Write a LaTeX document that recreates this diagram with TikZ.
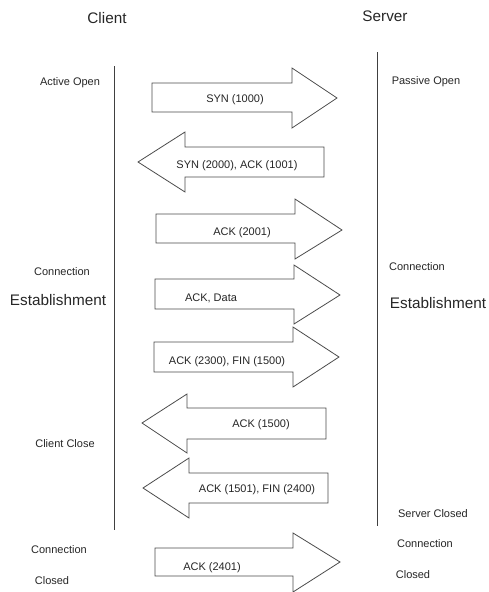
\documentclass[tikz,border=0pt]{standalone}
\usepackage{fontspec}
\setmainfont{Liberation Sans}
\begin{document}
\begin{tikzpicture}[x=1pt,y=-1pt,
  lbl/.style={inner sep=0pt,anchor=center,font=\fontsize{11}{13}\selectfont,text=black!85},
  big/.style={inner sep=0pt,anchor=center,font=\fontsize{15.3}{18}\selectfont,text=black!85},
  blockarrow/.style={draw=black!70,line width=0.8pt,fill=white,line join=miter},
  lifeline/.style={draw=black!75,line width=1pt}]
\useasboundingbox (0,0) rectangle (489,592);
% lifelines
\coordinate (ltop) at (114,66);
\coordinate (lbot) at (114,530);
\coordinate (rtop) at (377,52);
\coordinate (rbot) at (377,526);
\draw[lifeline] (ltop) -- (lbot);
\draw[lifeline] (rtop) -- (rbot);
% headers
\node[big] (client) at (107,18) {Client};
\node[big] (server) at (385,16) {Server};
% side labels
\node[lbl] (aopen) at (70,83) {Active Open};
\node[lbl] (popen) at (426,82) {Passive Open};
\node[lbl] (conL) at (62,272) {Connection};
\node[big] (estL) at (58,300) {Establishment};
\node[lbl] (conR) at (417,267) {Connection};
\node[big] (estR) at (438,303) {Establishment};
\node[lbl] (cclose) at (65,444) {Client Close};
\node[lbl] (sclosed) at (433,514) {Server Closed};
\node[lbl] (conL2) at (59,550) {Connection};
\node[lbl] (closedL) at (52,581) {Closed};
\node[lbl] (conR2) at (425,544) {Connection};
\node[lbl] (closedR) at (413,575) {Closed};
% block arrows
\draw[blockarrow] (152,83) -- (292,83) -- (292,68) -- (337,98) -- (292,128) -- (292,112) -- (152,112) -- cycle;
\draw[blockarrow] (324,147) -- (185,147) -- (185,132) -- (138,162) -- (185,192) -- (185,177) -- (324,177) -- cycle;
\draw[blockarrow] (156,214) -- (295,214) -- (295,199) -- (342,230) -- (295,259) -- (295,243) -- (156,243) -- cycle;
\draw[blockarrow] (155,279) -- (294,279) -- (294,265) -- (340,295) -- (294,324) -- (294,309) -- (155,309) -- cycle;
\draw[blockarrow] (154,342) -- (293,342) -- (293,327) -- (339,357) -- (293,387) -- (293,372) -- (154,372) -- cycle;
\draw[blockarrow] (326,408) -- (187,408) -- (187,394) -- (142,423) -- (187,453) -- (187,439) -- (326,439) -- cycle;
\draw[blockarrow] (328,473) -- (189,473) -- (189,458) -- (143,488) -- (189,518) -- (189,503) -- (328,503) -- cycle;
\draw[blockarrow] (155,548) -- (293,548) -- (293,533) -- (340,562) -- (293,592) -- (293,576) -- (155,576) -- cycle;
% arrow labels
\node[lbl] (m1) at (235,100) {SYN (1000)};
\node[lbl] (m2) at (237,166) {SYN (2000), ACK (1001)};
\node[lbl] (m3) at (242,233) {ACK (2001)};
\node[lbl] (m4) at (211,298) {ACK, Data};
\node[lbl] (m5) at (227,362) {ACK (2300), FIN (1500)};
\node[lbl] (m6) at (261,425) {ACK (1500)};
\node[lbl] (m7) at (257,490) {ACK (1501), FIN (2400)};
\node[lbl] (m8) at (212,568) {ACK (2401)};
\end{tikzpicture}
\end{document}
